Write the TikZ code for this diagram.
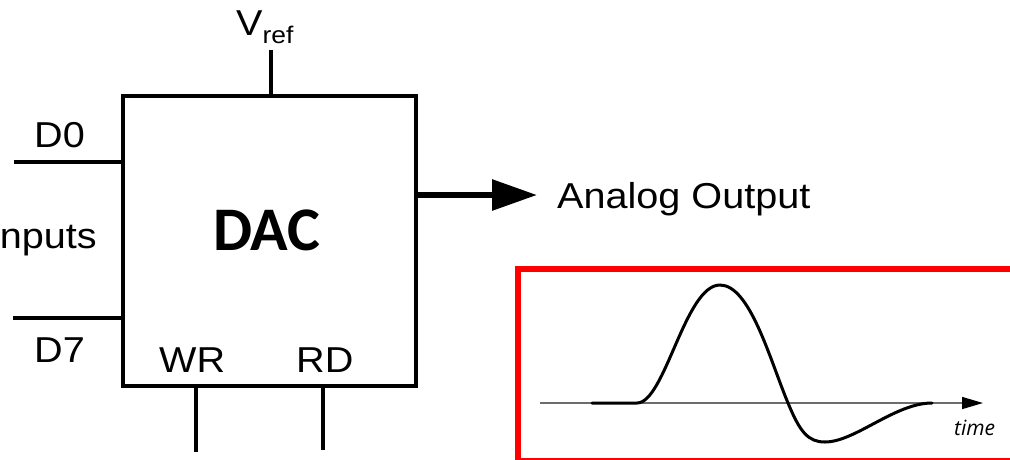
\documentclass[tikz,border=0pt]{standalone}
\usepackage{fontspec}
\setmainfont[FakeStretch=1.1]{Liberation Sans}
\newfontfamily\dacfont{Carlito}
\newfontfamily\timefont{Open Sans}
\usetikzlibrary{arrows.meta}
\begin{document}
\begin{tikzpicture}[x=1pt,y=-1pt,
  wire/.style={line width=4pt},
  lbl/.style={inner sep=0pt,anchor=base west,font=\fontsize{36}{40}\selectfont}]
\useasboundingbox (0,0) rectangle (1010,459);
% DAC box
\node[draw,line width=4pt,minimum width=293pt,minimum height=290pt,inner sep=0pt] (dac) at (269.5,241) {};
\node[inner sep=0pt,anchor=base,font=\dacfont\bfseries\fontsize{62}{66}\selectfont] (daclbl) at (267,250) {DAC};
% pin end points
\coordinate (vtop) at (271,50);
\coordinate (vbot) at (271,96);
\coordinate (d0a) at (14,162);
\coordinate (d0b) at (123,162);
\coordinate (d7a) at (13,318);
\coordinate (d7b) at (123,318);
\coordinate (wra) at (196,386);
\coordinate (wrb) at (196,452);
\coordinate (rda) at (323,386);
\coordinate (rdb) at (323,450);
\coordinate (outa) at (416,195);
\coordinate (outb) at (537,195);
\draw[wire] (vtop) -- (vbot);
\draw[wire] (d0a) -- (d0b);
\draw[wire] (d7a) -- (d7b);
\draw[wire] (wra) -- (wrb);
\draw[wire] (rda) -- (rdb);
\draw[line width=6pt,-{Triangle[length=45pt,width=30pt]}] (outa) -- (outb);
% labels
\node[lbl] (vref) at (236,35) {V\raisebox{-8pt}{\fontsize{24}{26}\selectfont ref}};
\node[lbl] (d0) at (34,147) {D0};
\node[lbl] (d7) at (34,362) {D7};
\node[lbl,anchor=base east] (inputs) at (97,248) {nputs};
\node[lbl] (wr) at (159,372) {WR};
\node[lbl] (rd) at (296,372) {RD};
\node[lbl] (aout) at (557,208) {Analog Output};
% waveform panel
\draw[red,line width=6pt] (517.5,269) rectangle (1016,460.5);
\coordinate (axa) at (540,403);
\coordinate (axb) at (983,403);
\draw[gray!85!black,line width=1.5pt,-{Triangle[length=21pt,width=12pt,color=black,fill=black]}] (axa) -- (axb);
\draw[line width=3pt,line cap=round] (592,403) -- (637,403)
  .. controls (665,403) and (685,285) .. (720,285)
  .. controls (750,285) and (770,360) .. (788,403)
  .. controls (800,432) and (808,442) .. (825,442)
  .. controls (855,442) and (895,403) .. (932,403);
\node[inner sep=0pt,anchor=base west,font=\timefont\itshape\fontsize{21}{24}\selectfont] (time) at (954,435) {time};
\end{tikzpicture}
\end{document}
